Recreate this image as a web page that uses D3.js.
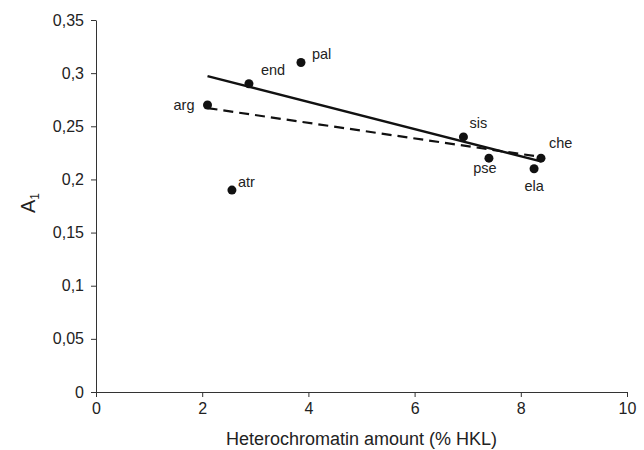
<!DOCTYPE html>
<html lang="en">
<head>
<meta charset="UTF-8">
<title>A1 vs heterochromatin</title>
<script src="https://d3js.org/d3.v7.min.js"></script>
<style>
  body { margin: 0; background: #fff; }
  svg text { font-family: "Liberation Sans", Arial, sans-serif; fill: #222; }
  .axis path, .axis line { stroke: #333; }
</style>
</head>
<body>
<div id="chart"></div>
<script>
// species, heterochromatin (% HKL), A1
var species = ["arg", "atr", "end", "pal", "sis", "pse", "ela", "che"];
var hetero  = [2.1, 2.56, 2.88, 3.86, 6.92, 7.4, 8.25, 8.38];
var a1      = [0.27, 0.19, 0.29, 0.31, 0.24, 0.22, 0.21, 0.22];
// label offsets relative to point (dx, dy, anchor)
var labelPos = {
  arg: [-13, 5, "end"], atr: [6, -3, "start"], end: [12, -9, "start"],
  pal: [11, -4, "start"], sis: [6, -9, "start"], pse: [-4, 15, "middle"],
  ela: [0, 22, "middle"], che: [8, -10, "start"]
};
var xTicks = [0, 2, 4, 6, 8, 10];
var yTicks = [0, 0.05, 0.1, 0.15, 0.2, 0.25, 0.3, 0.35];

var width = 644, height = 450;
var margin = {top: 20, right: 17, bottom: 58, left: 96};

var svg = d3.select("#chart").append("svg")
  .attr("width", width).attr("height", height);

var x = d3.scaleLinear().domain([0, 10]).range([margin.left, width - margin.right]);
var y = d3.scaleLinear().domain([0, 0.35]).range([height - margin.bottom, margin.top]);

var fmt = function(d) { return String(d).replace(".", ","); };

var gx = svg.append("g").attr("class", "axis")
  .attr("transform", "translate(0," + y(0) + ")")
  .call(d3.axisBottom(x).tickValues(xTicks).tickSize(5).tickSizeOuter(0).tickFormat(d3.format("d")));
gx.selectAll("text").style("font-size", "16px").attr("y", 9).attr("dy", "0.8em");

var gy = svg.append("g").attr("class", "axis")
  .attr("transform", "translate(" + x(0) + ",0)")
  .call(d3.axisLeft(y).tickValues(yTicks).tickSize(5).tickSizeOuter(0).tickFormat(fmt));
gy.selectAll("text").style("font-size", "16px").attr("x", -12);

// regression lines
function fit(idx) {
  var xs = idx.map(function(i) { return hetero[i]; });
  var ys = idx.map(function(i) { return a1[i]; });
  var mx = d3.mean(xs), my = d3.mean(ys);
  var sxy = d3.sum(xs, function(v, k) { return (v - mx) * (ys[k] - my); });
  var sxx = d3.sum(xs, function(v) { return (v - mx) * (v - mx); });
  var b = sxy / sxx, a = my - b * mx;
  var x0 = d3.min(xs), x1 = d3.max(xs);
  return [[x0, a + b * x0], [x1, a + b * x1]];
}
var all = d3.range(species.length);
var noAtr = all.filter(function(i) { return species[i] !== "atr"; });
var line = d3.line().x(function(d) { return x(d[0]); }).y(function(d) { return y(d[1]); });

svg.append("path").datum(fit(all)).attr("d", line)
  .attr("fill", "none").attr("stroke", "#111").attr("stroke-width", 2.2)
  .attr("stroke-dasharray", "10,6");
svg.append("path").datum(fit(noAtr)).attr("d", line)
  .attr("fill", "none").attr("stroke", "#111").attr("stroke-width", 2.4);

// points
svg.selectAll(".pt").data(all).enter().append("circle")
  .attr("class", "pt")
  .attr("cx", function(i) { return x(hetero[i]); })
  .attr("cy", function(i) { return y(a1[i]); })
  .attr("r", 4.5).attr("fill", "#111");

svg.selectAll(".lbl").data(all).enter().append("text")
  .attr("class", "lbl")
  .attr("x", function(i) { return x(hetero[i]) + labelPos[species[i]][0]; })
  .attr("y", function(i) { return y(a1[i]) + labelPos[species[i]][1]; })
  .attr("text-anchor", function(i) { return labelPos[species[i]][2]; })
  .style("font-size", "14.5px")
  .text(function(i) { return species[i]; });

// axis titles
svg.append("text")
  .attr("x", (x(0) + x(10)) / 2).attr("y", 445)
  .attr("text-anchor", "middle").style("font-size", "18px")
  .text("Heterochromatin amount (% HKL)");

var yt = svg.append("text")
  .attr("transform", "translate(35," + 203 + ") rotate(-90)")
  .attr("text-anchor", "middle").style("font-size", "20px");
yt.append("tspan").text("A");
yt.append("tspan").attr("dy", 4).style("font-size", "12px").text("1");
</script>
</body>
</html>
